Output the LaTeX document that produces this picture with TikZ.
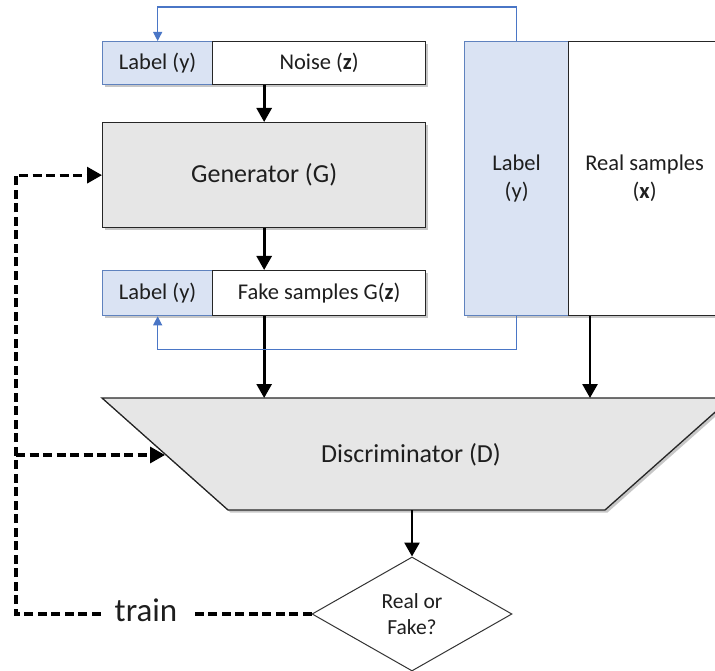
\documentclass[tikz,border=0pt]{standalone}
\usepackage{fontspec}
\setmainfont{Carlito}
\usetikzlibrary{arrows.meta,shapes.geometric,shadows,calc}

\definecolor{labelfill}{HTML}{DAE3F3}
\definecolor{labeledge}{HTML}{5F82BE}
\definecolor{linkblue}{HTML}{4A76C6}
\definecolor{bodygray}{HTML}{E6E6E6}
\definecolor{ink}{HTML}{1E1E1E}

\begin{document}
\begin{tikzpicture}[x=1pt,y=-1pt,
  every node/.style={text=ink},
  softshadow/.style={drop shadow={shadow xshift=2.5pt,shadow yshift=-2.5pt,opacity=0.22,fill=black}},
  plainbox/.style={draw=black!85,line width=1.3pt,fill=white,inner sep=0pt,anchor=north west,softshadow,
    font=\fontsize{22.5}{28}\selectfont,align=center},
  labelbox/.style={plainbox,draw=labeledge,fill=labelfill},
  graybox/.style={plainbox,fill=bodygray,font=\fontsize{26}{30}\selectfont},
  flow/.style={draw=black,line width=2.7pt,-{Triangle[length=14pt,width=15pt]}},
  labellink/.style={draw=linkblue,line width=1.1pt,-{Triangle[length=9pt,width=9pt]}},
  trainlink/.style={draw=black,line width=3.2pt,dash pattern=on 9pt off 4.5pt},
  trainarrow/.style={trainlink,-{Triangle[length=15pt,width=16pt]}},
]
\useasboundingbox (0,0) rectangle (715,671);
\clip (0,0) rectangle (715,671);

% generator input: label + noise
\node[labelbox,minimum width=110,minimum height=43] (lab1) at (102,41) {Label (y)};
\node[plainbox,minimum width=213,minimum height=43] (noise) at (212,41) {Noise (\textbf{z})};

% generator
\node[graybox,minimum width=323,minimum height=105] (gen) at (102,122) {Generator (G)};

% generator output: label + fake samples
\node[labelbox,minimum width=110,minimum height=45] (lab2) at (102,270) {Label (y)};
\node[plainbox,minimum width=213,minimum height=45] (fake) at (212,270) {Fake samples G(\textbf{z})};

% real data: label column + samples
\node[labelbox,minimum width=104,minimum height=274] (rlab) at (464,41) {Label\\(y)};
\node[plainbox,minimum width=152,minimum height=274] (real) at (568,41) {Real samples\\(\textbf{x})};

% discriminator (inverted trapezoid)
\coordinate (dtl) at (102,398);
\coordinate (dtr) at (731,398);
\coordinate (dbr) at (605,510);
\coordinate (dbl) at (228,510);
\filldraw[fill=bodygray,draw=black!85,line width=1.3pt,softshadow]
  (dtl) -- (dtr) -- (dbr) -- (dbl) -- cycle;
\node[font=\fontsize{26}{30}\selectfont] (disc) at (411,455) {Discriminator (D)};
\coordinate (dinfake) at (gen.south |- dtl);
\coordinate (dinreal) at (590,398);
\coordinate (dout) at (412,510);
\coordinate (dleft) at (165,455);

% decision
\node[diamond,draw=black!80,line width=1pt,fill=white,inner sep=0pt,
  minimum width=200,minimum height=114,align=center,
  font=\fontsize{21.5}{26}\selectfont] (dec) at (412,614) {Real or\\Fake?};

% training signal label
\node[font=\fontsize{33}{36}\selectfont,inner xsep=14pt,inner ysep=0pt] (train) at (146,610) {train};

% main data flow
\draw[flow] (noise.south -| gen.north) -- (gen.north);
\draw[flow] (gen.south) -- (gen.south |- fake.north);
\draw[flow] (fake.south -| gen.south) -- (dinfake);
\draw[flow] (real.south west -| dinreal) -- (dinreal);
\draw[flow] (dout) -- (dec.north);

% class labels routed to both sides
\draw[labellink] (rlab.north) -- ++(0,-34) -| (lab1.north);
\draw[labellink] (rlab.south) -- ++(0,33) -| (lab2.south);

% training feedback
\coordinate (tcorner) at (16,614);
\coordinate (tbranch) at (16,455);
\draw[trainlink] (dec.west) -- (dec.west -| train.east);
\draw[trainarrow] (dec.west -| train.west) -- (tcorner) |- (gen.west);
\draw[trainarrow] (tbranch) -- (dleft);
\end{tikzpicture}
\end{document}
